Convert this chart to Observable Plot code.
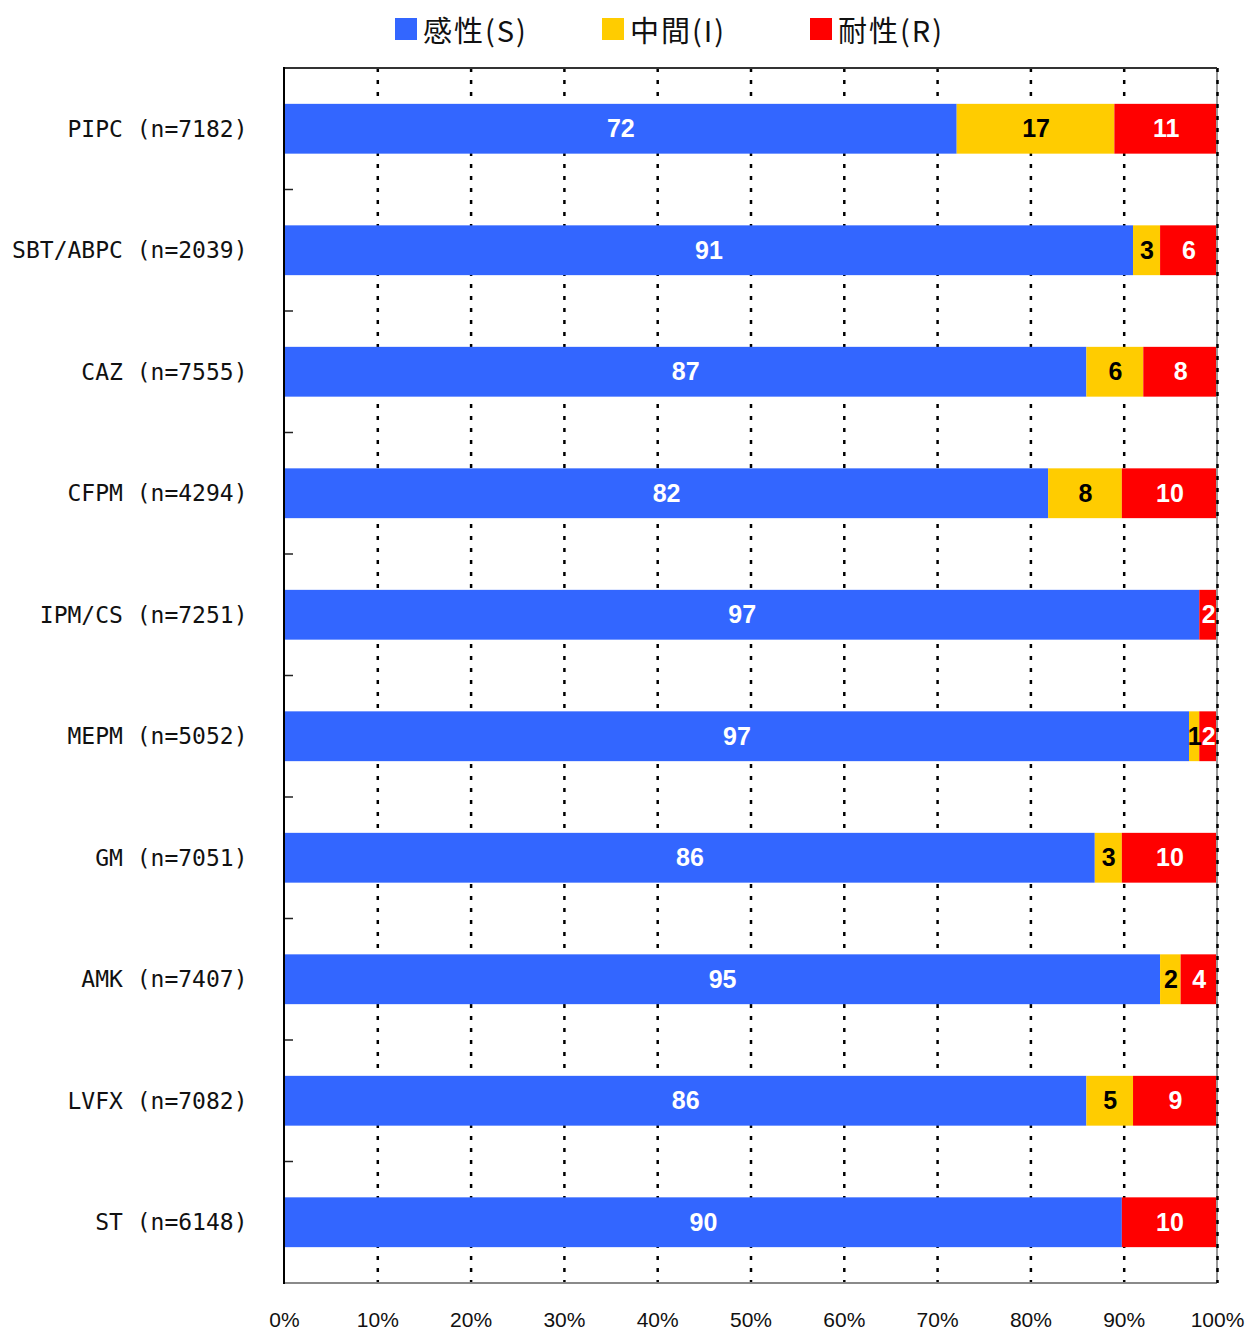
<!DOCTYPE html>
<html><head><meta charset="utf-8">
<script src="https://cdn.jsdelivr.net/npm/d3@7"></script>
<script src="https://cdn.jsdelivr.net/npm/@observablehq/plot@0.6"></script>
<style>
body{margin:0;background:#fff;}
#wrap{position:relative;width:1246px;height:1332px;background:#fff;}
#legend{position:relative;width:1246px;height:60px;font-family:"Noto Sans CJK JP",sans-serif;font-size:29px;color:#111;}
.item{position:absolute;top:8px;height:42px;display:flex;align-items:center;white-space:nowrap;letter-spacing:2px;}
.sw{width:22px;height:22px;margin-right:6px;flex:none;}
</style></head><body>
<div id="wrap"><div id="legend"></div><div id="chart"></div></div>
<script>
const categories = ["PIPC (n=7182)","SBT/ABPC (n=2039)","CAZ (n=7555)","CFPM (n=4294)","IPM/CS (n=7251)","MEPM (n=5052)","GM (n=7051)","AMK (n=7407)","LVFX (n=7082)","ST (n=6148)"];
const seriesNames = ["感性(S)","中間(I)","耐性(R)"];
const seriesColors = ["#3366FF","#FFCC00","#FF0000"];
// segment lengths (percent) as drawn
const valuesS = [72.1, 91.0, 86.0, 81.9, 98.1, 97.0, 86.9, 93.9, 86.0, 89.8];
const valuesI = [16.9, 2.9, 6.1, 7.9, 0, 1.1, 2.9, 2.2, 5.0, 0];
const valuesR = [11.0, 6.1, 7.9, 10.2, 1.9, 1.9, 10.2, 3.9, 9.0, 10.2];
// printed labels
const labelsS = ["72","91","87","82","97","97","86","95","86","90"];
const labelsI = ["17","3","6","8","","1","3","2","5",""];
const labelsR = ["11","6","8","10","2","2","10","4","9","10"];
const xTicks = [0,10,20,30,40,50,60,70,80,90,100];
const legendLeft = [395, 602, 810];

// legend
const leg = document.getElementById("legend");
seriesNames.forEach((name,i)=>{
  const it = document.createElement("div");
  it.className = "item"; it.style.left = legendLeft[i] + "px";
  const sw = document.createElement("div"); sw.className = "sw"; sw.style.background = seriesColors[i];
  const tx = document.createElement("span"); tx.textContent = name;
  it.appendChild(sw); it.appendChild(tx); leg.appendChild(it);
});

const valueSets = [valuesS, valuesI, valuesR];
const labelSets = [labelsS, labelsI, labelsR];
const inks = ["white","black","white"];
const data = [];
categories.forEach((c,i)=>{
  seriesNames.forEach((s,k)=>{
    data.push({cat:c, series:s, value:valueSets[k][i], label:labelSets[k][i], ink:inks[k]});
  });
});

function frameMark(index, scales, values, dims) {
  const {width, height, marginTop, marginBottom, marginLeft, marginRight} = dims;
  const x0 = marginLeft, x1 = width - marginRight, y0 = marginTop, y1 = height - marginBottom;
  const g = d3.create("svg:g");
  const y = scales.y;
  const bw = (y && y.bandwidth) ? y.bandwidth() : 0;
  const ys = categories.map(c => y(c));
  const bounds = [y0, ...ys.slice(1).map((v,i) => (ys[i] + bw + v) / 2), y1];
  g.selectAll("line.tk").data(bounds).join("line").attr("class","tk")
    .attr("x1", x0).attr("x2", x0 + 9).attr("y1", d => d).attr("y2", d => d)
    .attr("stroke", "#222").attr("stroke-width", 1.5);
  g.append("line").attr("x1", x0).attr("x2", x1).attr("y1", y0).attr("y2", y0).attr("stroke", "#333").attr("stroke-width", 2);
  g.append("line").attr("x1", x0).attr("x2", x1).attr("y1", y1).attr("y2", y1).attr("stroke", "#8a8a8a").attr("stroke-width", 2);
  g.append("line").attr("x1", x1).attr("x2", x1).attr("y1", y0).attr("y2", y1).attr("stroke", "#999").attr("stroke-width", 2);
  g.append("line").attr("x1", x0).attr("x2", x0).attr("y1", y0 - 1).attr("y2", y1 + 1).attr("stroke", "#000").attr("stroke-width", 2);
  return g.node();
}

const plot = Plot.plot({
  width: 1246, height: 1272,
  marginTop: 8, marginBottom: 49, marginLeft: 284, marginRight: 29,
  style: {background: "white", fontFamily: "'Liberation Sans', Arial, sans-serif", color: "#111", overflow: "visible"},
  x: {domain: [0, 100], label: null},
  y: {domain: categories, paddingInner: 0.59, paddingOuter: 0.295, round: false, label: null},
  color: {domain: seriesNames, range: seriesColors},
  marks: [
    Plot.ruleX(xTicks.slice(1, -1), {stroke: "black", strokeWidth: 2.5, strokeDasharray: "4,8"}),
    Plot.barX(data, {x: "value", y: "cat", fill: "series"}),
    frameMark,
    Plot.ruleX(xTicks.slice(-1), {stroke: "black", strokeWidth: 2.5, strokeDasharray: "4,8"}),
    Plot.text(data, Plot.stackX({x: "value", y: "cat", z: "series", text: "label",
      fill: {value: "ink", scale: null}, fontSize: 25, fontWeight: "bold",
      fontFamily: "'Liberation Sans', Arial, sans-serif"})),
    Plot.axisX({ticks: xTicks, tickFormat: d => d + "%", tickSize: 0, tickPadding: 29, fontSize: 21, label: null}),
    Plot.axisY({tickSize: 0, tickPadding: 37, fontSize: 23, fontFamily: "'DejaVu Sans Mono', monospace", label: null})
  ]
});
document.getElementById("chart").appendChild(plot);
</script>
</body></html>
